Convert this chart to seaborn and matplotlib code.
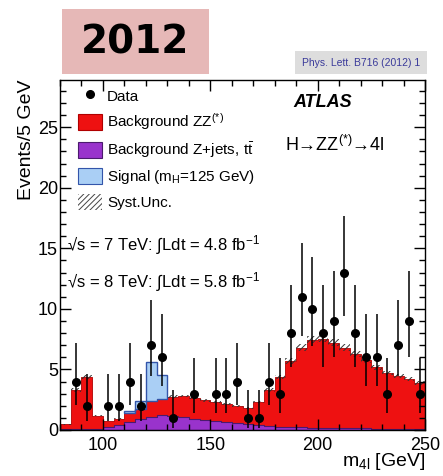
import numpy as np
import pandas as pd
import seaborn as sns
import matplotlib.pyplot as plt
from matplotlib.lines import Line2D
from matplotlib.patches import Patch, Rectangle
from matplotlib.ticker import MultipleLocator
from matplotlib.colors import to_hex

# 4-lepton mass spectrum, 5 GeV bins from 80 to 250 GeV
bin_edges = np.arange(80, 255, 5)
bin_centers = bin_edges[:-1] + 2.5

data_counts = [0, 4, 2, 0, 2, 2, 4, 2, 7, 6,
               1, 0, 3, 0, 3, 3, 4, 1, 1, 4,
               3, 8, 11, 10, 8, 9, 13, 8, 6, 6,
               3, 7, 9, 3]
bkg_zz = [0.42, 3.25, 4.32, 1.08, 0.53, 0.50, 0.70, 0.83, 1.28, 1.35,
          1.58, 1.75, 1.73, 1.65, 1.58, 1.44, 1.35, 1.28, 1.88, 2.96,
          4.12, 5.46, 6.59, 7.26, 7.38, 7.04, 6.65, 6.16, 5.67, 5.08,
          4.59, 4.35, 4.10, 3.81]
bkg_zjets = [0.05, 0.05, 0.06, 0.10, 0.22, 0.42, 0.70, 0.92, 1.10, 1.20,
             1.17, 1.05, 0.92, 0.80, 0.72, 0.68, 0.60, 0.52, 0.42, 0.34,
             0.28, 0.24, 0.21, 0.19, 0.17, 0.16, 0.15, 0.14, 0.13, 0.12,
             0.11, 0.10, 0.10, 0.09]
signal = [0, 0, 0, 0, 0, 0, 0.13, 0.68, 3.26, 2.03,
          0, 0, 0, 0, 0, 0, 0, 0, 0, 0,
          0, 0, 0, 0, 0, 0, 0, 0, 0, 0,
          0, 0, 0, 0]
syst_rel = 0.04

components = ['Signal', 'ZZ', 'Zjets']  # last one ends up at the bottom of the stack
colors = {'ZZ': '#ee1111', 'Zjets': '#9933cc', 'Signal': '#aacff5'}
edges = {'ZZ': '#b00000', 'Zjets': '#4b1a6e', 'Signal': '#3355aa'}

sns.set_style('ticks')
plt.rcParams.update({
    'font.family': ['Liberation Sans', 'DejaVu Sans'],
    'mathtext.fontset': 'custom',
    'mathtext.rm': 'Liberation Sans',
    'mathtext.it': 'Liberation Sans:italic',
    'mathtext.bf': 'Liberation Sans:bold',
    'hatch.linewidth': 0.7,
    'text.color': 'black',
    'axes.labelcolor': 'black',
    'axes.edgecolor': 'black',
    'xtick.color': 'black',
    'ytick.color': 'black',
    'xtick.direction': 'in',
    'ytick.direction': 'in',
    'xtick.top': True,
    'ytick.right': True,
})

df = pd.concat([
    pd.DataFrame({'m4l': bin_centers, 'weight': vals, 'comp': name})
    for name, vals in [('ZZ', bkg_zz), ('Zjets', bkg_zjets), ('Signal', signal)]
], ignore_index=True)

fig = plt.figure(figsize=(4.43, 4.76), dpi=100)
ax = fig.add_axes([60 / 443, 46 / 476, 365 / 443, 350 / 476])

sns.histplot(data=df, x='m4l', weights='weight', hue='comp', hue_order=components,
             bins=[float(b) for b in bin_edges], multiple='stack', element='step', fill=True,
             palette=colors, alpha=1, legend=False, ax=ax)

face_to_name = {to_hex(c): n for n, c in colors.items()}
for coll in ax.collections:
    name = face_to_name.get(to_hex(coll.get_facecolor()[0]))
    if name is None:
        continue
    coll.set_edgecolor(edges[name])
    if name == 'Signal':
        coll.set_linewidth(0)
        coll.set_zorder(2.1)
    elif name == 'Zjets':
        coll.set_linewidth(0.8)
        coll.set_zorder(1.2)
    else:
        coll.set_linewidth(0.6)
        coll.set_zorder(1.1)

# signal outline only where it is non-zero
total_bkg = np.array(bkg_zz) + np.array(bkg_zjets)
sig = np.array(signal)
nz = np.where(sig > 0)[0]
sl = slice(nz[0], nz[-1] + 1)
ax.stairs((total_bkg + sig)[sl], bin_edges[nz[0]:nz[-1] + 2], baseline=total_bkg[sl],
          fill=False, color=edges['Signal'], linewidth=1.0, zorder=2.2)

# systematic band on total background
band_x = np.append(bin_edges[:-1], bin_edges[-1])
lo_band = np.append(total_bkg * (1 - syst_rel), total_bkg[-1] * (1 - syst_rel))
hi_band = np.append(total_bkg * (1 + syst_rel), total_bkg[-1] * (1 + syst_rel))
ax.fill_between(band_x, lo_band, hi_band, step='post', facecolor='none',
                edgecolor='#333333', hatch='//////', linewidth=0, zorder=2)

# data with Poisson (Garwood-like) intervals
n = np.array(data_counts, dtype=float)
mask = n > 0
nn = n[mask]
lo = nn * (1 - 1 / (9 * nn) - 1 / (3 * np.sqrt(nn))) ** 3
hi = (nn + 1) * (1 - 1 / (9 * (nn + 1)) + 1 / (3 * np.sqrt(nn + 1))) ** 3
ax.errorbar(bin_centers[mask], nn, yerr=[nn - lo, hi - nn], fmt='o', color='black',
            markersize=5.5, elinewidth=1.1, capsize=0, zorder=3)

ax.set_xlim(80, 250)
ax.set_ylim(0, 28.9)
ax.xaxis.set_major_locator(MultipleLocator(50))
ax.xaxis.set_minor_locator(MultipleLocator(10))
ax.yaxis.set_major_locator(MultipleLocator(5))
ax.yaxis.set_minor_locator(MultipleLocator(1))
ax.tick_params(which='both', direction='in', top=True, right=True, bottom=True, left=True,
               width=1, color='black')
ax.tick_params(which='major', length=8)
ax.tick_params(which='minor', length=4)
ax.tick_params(axis='x', labelsize=13, pad=5)
ax.tick_params(axis='y', labelsize=13, pad=1.5)
ax.set_axisbelow(False)
for sp in ax.spines.values():
    sp.set_visible(True)
    sp.set_linewidth(1)
    sp.set_color('black')
    sp.set_zorder(4)

ax.set_xlabel('m$_{\\mathrm{4l}}$ [GeV]', fontsize=14, loc='right')
ax.xaxis.set_label_coords(1.0, -0.06)
ax.set_ylabel('Events/5 GeV', fontsize=14, loc='top')
ax.yaxis.set_label_coords(-0.068, 1.0)

handles = [
    Line2D([], [], marker='o', color='black', linestyle='none', markersize=5.5),
    Patch(facecolor=colors['ZZ'], edgecolor=edges['ZZ'], linewidth=0.8),
    Patch(facecolor=colors['Zjets'], edgecolor=edges['Zjets'], linewidth=0.8),
    Patch(facecolor=colors['Signal'], edgecolor=edges['Signal'], linewidth=0.8),
    Patch(facecolor='none', edgecolor='#444444', hatch='//////', linewidth=0),
]
labels = ['Data', 'Background ZZ$^{(*)}$', 'Background Z+jets, $\\mathrm{t\\bar{t}}$',
          'Signal (m$_{\\mathrm{H}}$=125 GeV)', 'Syst.Unc.']
ax.legend(handles, labels, loc='upper left', bbox_to_anchor=(0.049, 0.979),
          frameon=False, fontsize=11, borderpad=0, borderaxespad=0,
          handlelength=1.57, handleheight=1.24, labelspacing=0.52, handletextpad=0.33)

ax.text(0.64, 0.935, 'ATLAS', transform=ax.transAxes, fontsize=13,
        fontweight='bold', fontstyle='italic', va='center', ha='left')
ax.text(0.617, 0.815, 'H→ZZ$^{(*)}$→4l', transform=ax.transAxes, fontsize=13,
        va='center', ha='left')
ax.text(0.02, 0.529, '√s = 7 TeV: ∫Ldt = 4.8 fb$^{-1}$', transform=ax.transAxes,
        fontsize=12, va='center', ha='left')
ax.text(0.02, 0.423, '√s = 8 TeV: ∫Ldt = 5.8 fb$^{-1}$', transform=ax.transAxes,
        fontsize=12, va='center', ha='left')

# header boxes
fig.add_artist(Rectangle((62 / 443, 1 - 74 / 476), 147 / 443, 65 / 476,
                         transform=fig.transFigure, facecolor='#e6b8b7', edgecolor='none'))
fig.text(135.5 / 443, 1 - 42 / 476, '2012', fontsize=28, fontweight='bold',
         family='DejaVu Sans', color='black', ha='center', va='center')
fig.add_artist(Rectangle((295 / 443, 1 - 74 / 476), 132 / 443, 23 / 476,
                         transform=fig.transFigure, facecolor='#dddddd', edgecolor='none'))
fig.text(361 / 443, 1 - 62.5 / 476, 'Phys. Lett. B716 (2012) 1', fontsize=7.5,
         color='#3a3a9a', ha='center', va='center')

fig.savefig('out.png', dpi=100)
